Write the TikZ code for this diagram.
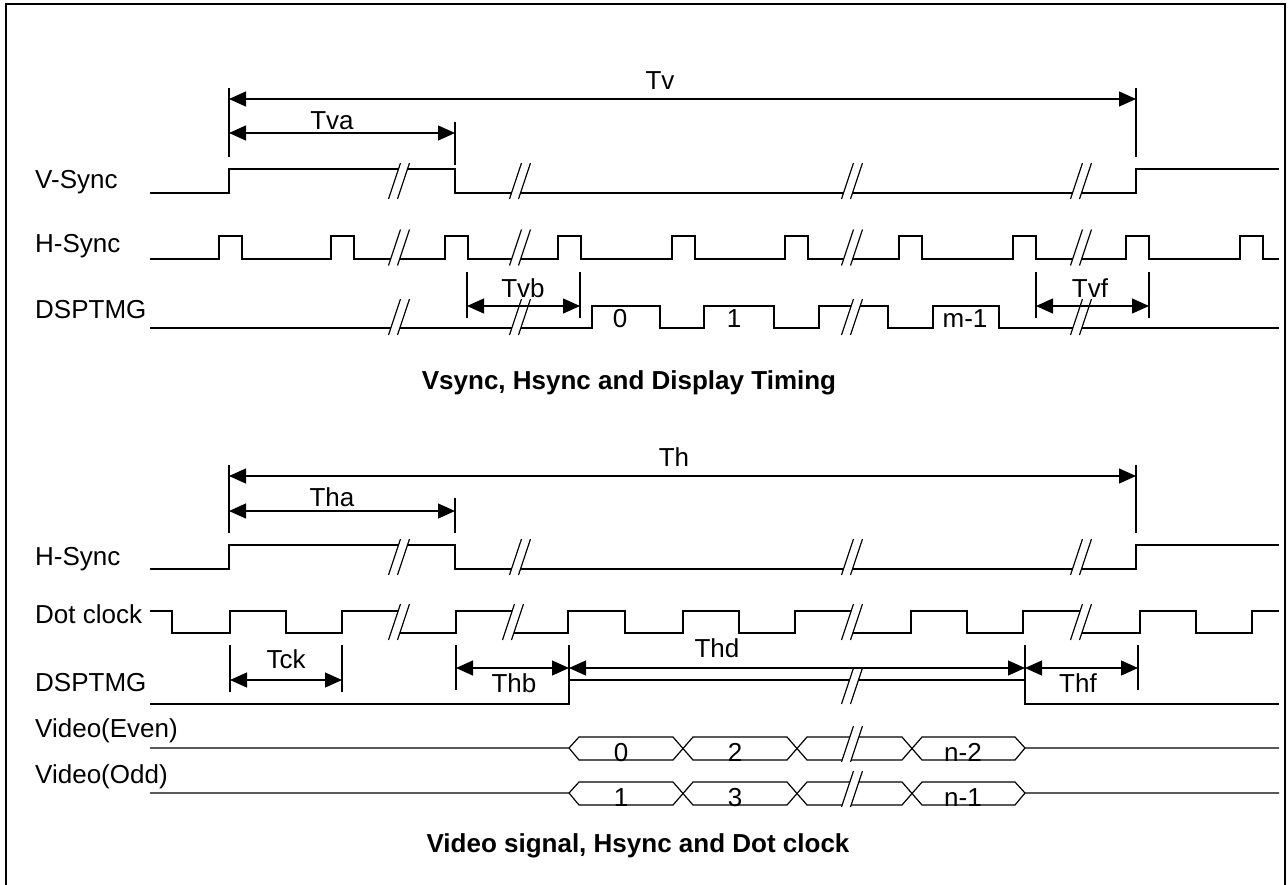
\documentclass[tikz,border=0pt]{standalone}
\usepackage{fontspec}
\setmainfont{Liberation Sans}
\usetikzlibrary{arrows.meta}
\tikzset{
  sig/.style={line width=1.2pt, line join=miter, line cap=butt},
  dimline/.style={line width=1.2pt, {Triangle[length=17pt,width=15pt]}-{Triangle[length=17pt,width=15pt]}},
  bar/.style={line width=1.2pt},
  lbl/.style={font=\fontsize{26}{30}\selectfont, anchor=base west, inner sep=0pt},
  tlbl/.style={font=\fontsize{26}{30}\selectfont, anchor=base, inner sep=0pt},
  captxt/.style={font=\bfseries\fontsize{26}{30}\selectfont, anchor=base, inner sep=0pt},
}
\newcommand\sigbrk[2]{%
  \fill[white] ({#1-10.5},{#2+18}) -- ({#1+1.5},{#2-18}) -- ({#1+10.5},{#2-18}) -- ({#1-1.5},{#2+18}) -- cycle;
  \draw[sig] ({#1-10.5},{#2+18}) -- ({#1+1.5},{#2-18});
  \draw[sig] ({#1-1.5},{#2+18}) -- ({#1+10.5},{#2-18});}
\begin{document}
\begin{tikzpicture}[x=1pt,y=-1pt]
\useasboundingbox (0,0) rectangle (1288,884);
\draw[line width=2.2pt] (6,900) -- (6,4) -- (1285,4) -- (1285,900);

% ---------- labels ----------
\node[lbl] (lvs) at (35,188) {V-Sync};
\node[lbl] (lhs) at (35,252) {H-Sync};
\node[lbl] (ld1) at (35,318) {DSPTMG};
\node[captxt] (cap1) at (629,389) {Vsync, Hsync and Display Timing};
\node[lbl] (lhs2) at (35,565) {H-Sync};
\node[lbl] (ldc) at (35,623) {Dot clock};
\node[lbl] (ld2) at (35,691) {DSPTMG};
\node[lbl] (lve) at (35,737) {Video(Even)};
\node[lbl] (lvo) at (35,783) {Video(Odd)};
\node[captxt] (cap2) at (638,852) {Video signal, Hsync and Dot clock};

% ---------- upper signals ----------
\draw[sig] (150,193) -- (229,193) -- (229,169) -- (455,169) -- (455,193) -- (1136,193) -- (1136,169) -- (1279,169);
\draw[sig] (150,259) foreach \s in {219,331,445,558,672,785,899,1013,1126,1240} { -- (\s,259) -- (\s,236) -- ({\s+23},236) -- ({\s+23},259) } -- (1279,259);
\draw[sig] (150,328) -- (592,328) -- (592,306) -- (660,306) -- (660,328) -- (704,328) -- (704,306) -- (774,306) -- (774,328) -- (819,328) -- (819,306) -- (888,306) -- (888,328) -- (933,328) -- (933,306) -- (999,306) -- (999,328) -- (1279,328);
\node[tlbl] (d0) at (620,327) {0};
\node[tlbl] (d1) at (734,327) {1};
\node[tlbl] (dm) at (965,327) {m-1};
\foreach \x in {399,520,852,1081} {
  \sigbrk{\x}{181}
  \sigbrk{\x}{247.5}
  \sigbrk{\x}{317}
}

% ---------- upper dimensions ----------
\coordinate (tvA) at (229,99);  \coordinate (tvB) at (1136,99);
\coordinate (tvaA) at (229,133); \coordinate (tvaB) at (455,133);
\coordinate (tvbA) at (467,306); \coordinate (tvbB) at (580,306);
\coordinate (tvfA) at (1036,306); \coordinate (tvfB) at (1149,306);
\draw[bar] (229,88) -- (229,157) (1136,88) -- (1136,157) (455,122) -- (455,165);
\draw[bar] (467,272) -- (467,318) (580,272) -- (580,318) (1036,272) -- (1036,318) (1149,272) -- (1149,318);
\draw[dimline] (tvA) -- (tvB);
\draw[dimline] (tvaA) -- (tvaB);
\draw[dimline] (tvbA) -- (tvbB);
\draw[dimline] (tvfA) -- (tvfB);
\node[tlbl] (ttv) at (660,89) {Tv};
\node[tlbl] (ttva) at (332,129) {Tva};
\node[tlbl] (ttvb) at (523,297) {Tvb};
\node[tlbl] (ttvf) at (1090,297) {Tvf};

% ---------- lower signals ----------
\draw[sig] (150,569) -- (229,569) -- (229,545) -- (455,545) -- (455,569) -- (1136,569) -- (1136,545) -- (1279,545);
\draw[sig] (150,611) -- (172,611) -- (172,633) -- (230,633) -- (230,611) -- (286,611) -- (286,633) -- (342,633) -- (342,611) -- (399,611) -- (399,633) -- (456,633) -- (456,611) -- (513,611) -- (513,633) -- (568,633) -- (568,611) -- (625,611) -- (625,633) -- (683,633) -- (683,611) -- (739,611) -- (739,633) -- (795,633) -- (795,611) -- (852,611) -- (852,633) -- (911,633) -- (911,611) -- (967,611) -- (967,633) -- (1023,633) -- (1023,611) -- (1081,611) -- (1081,633) -- (1140,633) -- (1140,611) -- (1196,611) -- (1196,633) -- (1252,633) -- (1252,611) -- (1279,611);
\draw[sig] (150,704) -- (569,704) -- (569,680) -- (1025,680) -- (1025,704) -- (1279,704);
% video even
\draw[sig] (150,748) -- (569,748) -- (579,737) -- (673,737) -- (693,760) -- (787,760) -- (807,737) -- (902,737) -- (922,760) -- (1015,760) -- (1025,748) -- (1279,748);
\draw[sig] (569,748) -- (579,760) -- (673,760) -- (693,737) -- (787,737) -- (807,760) -- (902,760) -- (922,737) -- (1015,737) -- (1025,748);
% video odd
\draw[sig] (150,793) -- (569,793) -- (579,782) -- (673,782) -- (693,805) -- (787,805) -- (807,782) -- (902,782) -- (922,805) -- (1015,805) -- (1025,793) -- (1279,793);
\draw[sig] (569,793) -- (579,805) -- (673,805) -- (693,782) -- (787,782) -- (807,805) -- (902,805) -- (922,782) -- (1015,782) -- (1025,793);
\node[tlbl] (e0) at (621,761) {0};
\node[tlbl] (e2) at (735,761) {2};
\node[tlbl] (en) at (963,761) {n-2};
\node[tlbl] (o1) at (621,806) {1};
\node[tlbl] (o3) at (735,806) {3};
\node[tlbl] (on) at (963,806) {n-1};
\foreach \x in {399,520,852,1081} { \sigbrk{\x}{557} }
\foreach \x in {399,513,852,1081} { \sigbrk{\x}{622} }
\sigbrk{852}{686}
\sigbrk{852}{744}
\sigbrk{852}{789}

% ---------- lower dimensions ----------
\coordinate (thA) at (229,476);  \coordinate (thB) at (1136,476);
\coordinate (thaA) at (229,511); \coordinate (thaB) at (455,511);
\coordinate (tckA) at (230,680); \coordinate (tckB) at (342,680);
\coordinate (thbA) at (456,668); \coordinate (thbB) at (569,668);
\coordinate (thdB) at (1025,668);
\coordinate (thfB) at (1138,668);
\draw[bar] (229,465) -- (229,533) (1136,465) -- (1136,533) (455,498) -- (455,533);
\draw[bar] (230,645) -- (230,692) (342,645) -- (342,692) (456,645) -- (456,690) (569,645) -- (569,680) (1025,645) -- (1025,680) (1138,645) -- (1138,690);
\draw[dimline] (thA) -- (thB);
\draw[dimline] (thaA) -- (thaB);
\draw[dimline] (tckA) -- (tckB);
\draw[dimline] (thbA) -- (thbB);
\draw[dimline] (thbB) -- (thdB);
\draw[dimline] (thdB) -- (thfB);
\node[tlbl] (tth) at (674,466) {Th};
\node[tlbl] (ttha) at (332,506) {Tha};
\node[tlbl] (ttck) at (286,668) {Tck};
\node[tlbl] (tthb) at (514,692) {Thb};
\node[tlbl] (tthd) at (717,657) {Thd};
\node[tlbl] (tthf) at (1078,692) {Thf};
\end{tikzpicture}
\end{document}
